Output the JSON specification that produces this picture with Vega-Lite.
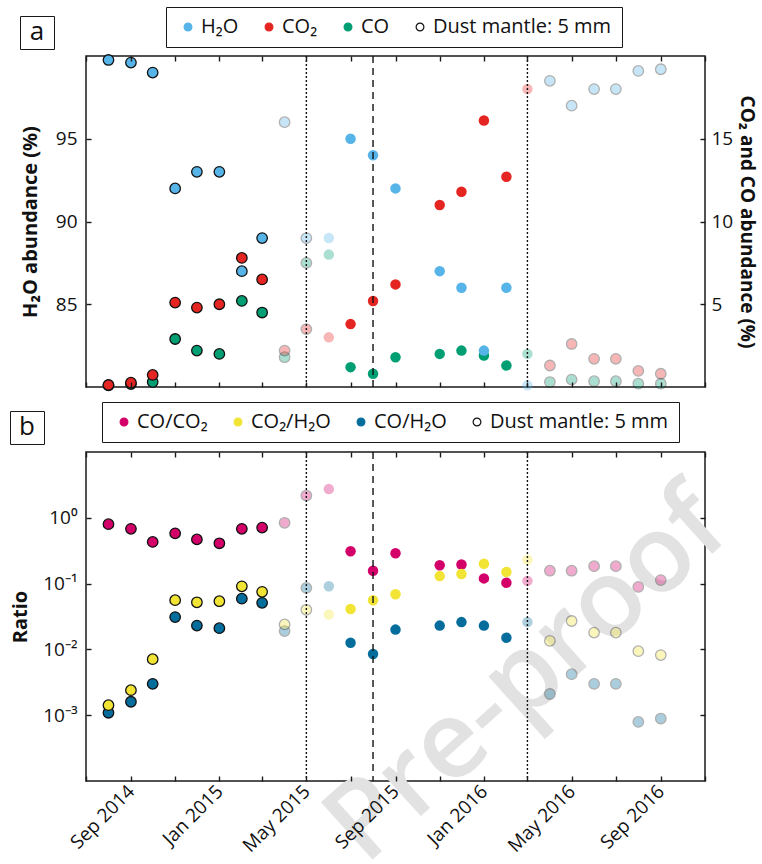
{
  "$schema": "https://vega.github.io/schema/vega-lite/v6.json",
  "background": "white",
  "padding": {"left": 8, "top": 5, "right": 0, "bottom": 0},
  "datasets": {
    "abund": [
      {"date": "2014-08-01", "H2O": 99.76, "CO2": 0.12, "CO": 0.10, "mantle": "yes", "conf": "high"},
      {"date": "2014-09-01", "H2O": 99.6, "CO2": 0.26, "CO": 0.18, "mantle": "yes", "conf": "high"},
      {"date": "2014-10-01", "H2O": 99.0, "CO2": 0.73, "CO": 0.3, "mantle": "yes", "conf": "high"},
      {"date": "2014-11-01", "H2O": 92.0, "CO2": 5.1, "CO": 2.9, "mantle": "yes", "conf": "high"},
      {"date": "2014-12-01", "H2O": 93.0, "CO2": 4.8, "CO": 2.2, "mantle": "yes", "conf": "high"},
      {"date": "2015-01-01", "H2O": 93.0, "CO2": 5.0, "CO": 2.0, "mantle": "yes", "conf": "high"},
      {"date": "2015-02-01", "H2O": 87.0, "CO2": 7.8, "CO": 5.2, "mantle": "yes", "conf": "high"},
      {"date": "2015-03-01", "H2O": 89.0, "CO2": 6.5, "CO": 4.5, "mantle": "yes", "conf": "high"},
      {"date": "2015-04-01", "H2O": 96.0, "CO2": 2.2, "CO": 1.8, "mantle": "yes", "conf": "low"},
      {"date": "2015-05-01", "H2O": 89.0, "CO2": 3.5, "CO": 7.5, "mantle": "yes", "conf": "low"},
      {"date": "2015-06-01", "H2O": 89.0, "CO2": 3.0, "CO": 8.0, "mantle": "no", "conf": "low"},
      {"date": "2015-07-01", "H2O": 95.0, "CO2": 3.8, "CO": 1.2, "mantle": "no", "conf": "high"},
      {"date": "2015-08-01", "H2O": 94.0, "CO2": 5.2, "CO": 0.8, "mantle": "no", "conf": "high"},
      {"date": "2015-09-01", "H2O": 92.0, "CO2": 6.2, "CO": 1.8, "mantle": "no", "conf": "high"},
      {"date": "2015-11-01", "H2O": 87.0, "CO2": 11.0, "CO": 2.0, "mantle": "no", "conf": "high"},
      {"date": "2015-12-01", "H2O": 86.0, "CO2": 11.8, "CO": 2.2, "mantle": "no", "conf": "high"},
      {"date": "2016-01-01", "H2O": 82.2, "CO2": 16.1, "CO": 1.9, "mantle": "no", "conf": "high"},
      {"date": "2016-02-01", "H2O": 86.0, "CO2": 12.7, "CO": 1.3, "mantle": "no", "conf": "high"},
      {"date": "2016-03-01", "H2O": 80.1, "CO2": 18.0, "CO": 2.0, "mantle": "no", "conf": "low"},
      {"date": "2016-04-01", "H2O": 98.5, "CO2": 1.3, "CO": 0.3, "mantle": "yes", "conf": "low"},
      {"date": "2016-05-01", "H2O": 97.0, "CO2": 2.6, "CO": 0.45, "mantle": "yes", "conf": "low"},
      {"date": "2016-06-01", "H2O": 98.0, "CO2": 1.7, "CO": 0.35, "mantle": "yes", "conf": "low"},
      {"date": "2016-07-01", "H2O": 98.0, "CO2": 1.7, "CO": 0.35, "mantle": "yes", "conf": "low"},
      {"date": "2016-08-01", "H2O": 99.1, "CO2": 0.97, "CO": 0.2, "mantle": "yes", "conf": "low"},
      {"date": "2016-09-01", "H2O": 99.2, "CO2": 0.8, "CO": 0.2, "mantle": "yes", "conf": "low"}
    ],
    "ratio": [
      {"date": "2014-08-01", "CO_CO2": 0.80, "CO2_H2O": 0.00142, "CO_H2O": 0.00109, "mantle": "yes", "conf": "high"},
      {"date": "2014-09-01", "CO_CO2": 0.68, "CO2_H2O": 0.0024, "CO_H2O": 0.0016, "mantle": "yes", "conf": "high"},
      {"date": "2014-10-01", "CO_CO2": 0.43, "CO2_H2O": 0.0071, "CO_H2O": 0.0030, "mantle": "yes", "conf": "high"},
      {"date": "2014-11-01", "CO_CO2": 0.58, "CO2_H2O": 0.056, "CO_H2O": 0.031, "mantle": "yes", "conf": "high"},
      {"date": "2014-12-01", "CO_CO2": 0.47, "CO2_H2O": 0.052, "CO_H2O": 0.023, "mantle": "yes", "conf": "high"},
      {"date": "2015-01-01", "CO_CO2": 0.41, "CO2_H2O": 0.054, "CO_H2O": 0.021, "mantle": "yes", "conf": "high"},
      {"date": "2015-02-01", "CO_CO2": 0.68, "CO2_H2O": 0.091, "CO_H2O": 0.059, "mantle": "yes", "conf": "high"},
      {"date": "2015-03-01", "CO_CO2": 0.71, "CO2_H2O": 0.075, "CO_H2O": 0.051, "mantle": "yes", "conf": "high"},
      {"date": "2015-04-01", "CO_CO2": 0.84, "CO2_H2O": 0.024, "CO_H2O": 0.019, "mantle": "yes", "conf": "low"},
      {"date": "2015-05-01", "CO_CO2": 2.18, "CO2_H2O": 0.040, "CO_H2O": 0.086, "mantle": "yes", "conf": "low"},
      {"date": "2015-06-01", "CO_CO2": 2.73, "CO2_H2O": 0.034, "CO_H2O": 0.091, "mantle": "no", "conf": "low"},
      {"date": "2015-07-01", "CO_CO2": 0.31, "CO2_H2O": 0.041, "CO_H2O": 0.0126, "mantle": "no", "conf": "high"},
      {"date": "2015-08-01", "CO_CO2": 0.157, "CO2_H2O": 0.056, "CO_H2O": 0.0085, "mantle": "no", "conf": "high"},
      {"date": "2015-09-01", "CO_CO2": 0.29, "CO2_H2O": 0.069, "CO_H2O": 0.020, "mantle": "no", "conf": "high"},
      {"date": "2015-11-01", "CO_CO2": 0.19, "CO2_H2O": 0.13, "CO_H2O": 0.023, "mantle": "no", "conf": "high"},
      {"date": "2015-12-01", "CO_CO2": 0.195, "CO2_H2O": 0.14, "CO_H2O": 0.026, "mantle": "no", "conf": "high"},
      {"date": "2016-01-01", "CO_CO2": 0.12, "CO2_H2O": 0.20, "CO_H2O": 0.023, "mantle": "no", "conf": "high"},
      {"date": "2016-02-01", "CO_CO2": 0.103, "CO2_H2O": 0.15, "CO_H2O": 0.015, "mantle": "no", "conf": "high"},
      {"date": "2016-03-01", "CO_CO2": 0.11, "CO2_H2O": 0.23, "CO_H2O": 0.026, "mantle": "no", "conf": "low"},
      {"date": "2016-04-01", "CO_CO2": 0.157, "CO2_H2O": 0.0135, "CO_H2O": 0.0021, "mantle": "yes", "conf": "low"},
      {"date": "2016-05-01", "CO_CO2": 0.157, "CO2_H2O": 0.027, "CO_H2O": 0.0042, "mantle": "yes", "conf": "low"},
      {"date": "2016-06-01", "CO_CO2": 0.184, "CO2_H2O": 0.018, "CO_H2O": 0.0030, "mantle": "yes", "conf": "low"},
      {"date": "2016-07-01", "CO_CO2": 0.184, "CO2_H2O": 0.018, "CO_H2O": 0.0030, "mantle": "yes", "conf": "low"},
      {"date": "2016-08-01", "CO_CO2": 0.089, "CO2_H2O": 0.0094, "CO_H2O": 0.00079, "mantle": "yes", "conf": "low"},
      {"date": "2016-09-01", "CO_CO2": 0.113, "CO2_H2O": 0.0082, "CO_H2O": 0.00089, "mantle": "yes", "conf": "low"}
    ],
    "events": [
      {"date": "2015-05-01", "kind": "dotted"},
      {"date": "2015-08-01", "kind": "dashed"},
      {"date": "2016-03-01", "kind": "dotted"}
    ],
    "mark": [{"date": "2016-03-01", "ratio": 0.0038, "label": "Pre-proof"}]
  },
  "spacing": 65,
  "bounds": "flush",
  "resolve": {
    "scale": {"fill": "independent", "stroke": "independent", "shape": "independent", "x": "independent", "y": "independent"},
    "legend": {"fill": "independent", "stroke": "independent", "shape": "independent"}
  },
  "vconcat": [
    {
      "width": 619,
      "height": 331,
      "data": {"name": "abund"},
      "layer": [
        {
          "mark": {"type": "point", "filled": true, "size": 110},
          "encoding": {
            "x": {"field": "date", "type": "temporal", "scale": {"type": "utc", "domain": [{"year": 2014, "month": 7, "date": 1, "utc": true}, {"year": 2016, "month": 11, "date": 1, "utc": true}]}, "axis": null},
            "y": {"field": "CO", "type": "quantitative", "scale": {"domain": [0, 20], "nice": false, "zero": false}, "axis": null},
            "fill": {"datum": "CO", "scale": {"domain": ["H2O", "CO2", "CO", "Dust"], "range": ["#56b4e9", "#e52521", "#009e73", "#ffffff"]},
              "legend": {
                "title": null, "orient": "none", "legendX": 80, "legendY": -49, "direction": "horizontal",
                "labelExpr": "datum.label === 'H2O' ? 'H₂O' : datum.label === 'CO2' ? 'CO₂' : datum.label === 'CO' ? 'CO' : 'Dust mantle: 5 mm'"
              }},
            "stroke": {"condition": {"test": "datum.mantle === 'yes'", "value": "#111"}, "datum": "CO", "scale": {"domain": ["H2O", "CO2", "CO", "Dust"], "range": ["#56b4e9", "#e52521", "#009e73", "#111111"]},
              "legend": {"title": null, "orient": "none", "legendX": 80, "legendY": -49, "direction": "horizontal",
                "labelExpr": "datum.label === 'H2O' ? 'H₂O' : datum.label === 'CO2' ? 'CO₂' : datum.label === 'CO' ? 'CO' : 'Dust mantle: 5 mm'"}},
            "shape": {"datum": "a", "scale": {"domain": ["a"], "range": ["circle"]},
              "legend": {"title": "a", "orient": "none", "legendX": -66, "legendY": -40, "labelExpr": "''", "symbolSize": 1, "symbolOpacity": 0, "symbolStrokeWidth": 0, "symbolOffset": 0, "labelFontSize": 1, "labelOffset": 27, "titleFontSize": 26, "titleFontWeight": "normal", "titlePadding": 0, "titleAnchor": "middle", "titleLimit": 100, "padding": 3}},
            "strokeWidth": {"condition": {"test": "datum.mantle === 'yes'", "value": 1.3}, "value": 0},
            "opacity": {"condition": {"test": "datum.conf === 'low'", "value": 0.33}, "value": 1}
          }
        },
        {
          "mark": {"type": "point", "filled": true, "size": 110},
          "encoding": {
            "x": {"field": "date", "type": "temporal", "scale": {"type": "utc", "domain": [{"year": 2014, "month": 7, "date": 1, "utc": true}, {"year": 2016, "month": 11, "date": 1, "utc": true}]}, "axis": null},
            "y": {"field": "CO2", "type": "quantitative", "scale": {"domain": [0, 20], "nice": false, "zero": false},
              "axis": {"orient": "right", "values": [5, 10, 15], "title": "CO₂ and CO abundance (%)", "titleFontSize": 19, "labelPadding": 11, "titlePadding": 4, "zindex": 1}},
            "fill": {"datum": "CO2", "scale": {"domain": ["H2O", "CO2", "CO", "Dust"], "range": ["#56b4e9", "#e52521", "#009e73", "#ffffff"]}},
            "stroke": {"condition": {"test": "datum.mantle === 'yes'", "value": "#111"}, "datum": "CO2", "scale": {"domain": ["H2O", "CO2", "CO", "Dust"], "range": ["#56b4e9", "#e52521", "#009e73", "#111111"]}},
            "strokeWidth": {"condition": {"test": "datum.mantle === 'yes'", "value": 1.3}, "value": 0},
            "opacity": {"condition": {"test": "datum.conf === 'low'", "value": 0.33}, "value": 1}
          }
        },
        {
          "mark": {"type": "point", "filled": true, "size": 110},
          "encoding": {
            "x": {"field": "date", "type": "temporal", "scale": {"type": "utc", "domain": [{"year": 2014, "month": 7, "date": 1, "utc": true}, {"year": 2016, "month": 11, "date": 1, "utc": true}]},
              "axis": {"orient": "bottom", "labels": false, "title": null, "tickCount": {"interval": "month", "step": 2}, "zindex": 1}},
            "y": {"field": "H2O", "type": "quantitative", "scale": {"domain": [80, 100], "nice": false, "zero": false},
              "axis": {"orient": "left", "values": [85, 90, 95], "title": "H₂O abundance (%)", "labelPadding": 14, "titlePadding": 15, "zindex": 1}},
            "fill": {"datum": "H2O", "scale": {"domain": ["H2O", "CO2", "CO", "Dust"], "range": ["#56b4e9", "#e52521", "#009e73", "#ffffff"]}},
            "stroke": {"condition": {"test": "datum.mantle === 'yes'", "value": "#111"}, "datum": "H2O", "scale": {"domain": ["H2O", "CO2", "CO", "Dust"], "range": ["#56b4e9", "#e52521", "#009e73", "#111111"]}},
            "strokeWidth": {"condition": {"test": "datum.mantle === 'yes'", "value": 1.3}, "value": 0},
            "opacity": {"condition": {"test": "datum.conf === 'low'", "value": 0.33}, "value": 1}
          }
        },
        {
          "data": {"name": "events"},
          "mark": {"type": "rule", "strokeWidth": 1.4, "color": "#111"},
          "encoding": {
            "x": {"field": "date", "type": "temporal", "scale": {"type": "utc", "domain": [{"year": 2014, "month": 7, "date": 1, "utc": true}, {"year": 2016, "month": 11, "date": 1, "utc": true}]},
              "axis": {"orient": "top", "labels": false, "title": null, "tickCount": {"interval": "month", "step": 2}, "zindex": 1}},
            "strokeDash": {"field": "kind", "type": "nominal", "scale": {"domain": ["dotted", "dashed"], "range": [[2, 2], [7, 5]]}, "legend": null}
          }
        }
      ],
      "resolve": {"scale": {"y": "independent"}, "axis": {"x": "independent", "y": "independent"}}
    },
    {
      "width": 619,
      "height": 329,
      "data": {"name": "ratio"},
      "layer": [
        {
          "data": {"name": "mark"},
          "mark": {"type": "text", "angle": -42, "fontSize": 108, "fontWeight": 600, "color": "#e2e2e2", "font": "Open Sans", "align": "center", "baseline": "middle"},
          "encoding": {
            "x": {"field": "date", "type": "temporal", "scale": {"type": "utc", "domain": [{"year": 2014, "month": 7, "date": 1, "utc": true}, {"year": 2016, "month": 11, "date": 1, "utc": true}]}, "axis": null},
            "y": {"field": "ratio", "type": "quantitative", "scale": {"type": "log", "domain": [0.0001, 10], "nice": false},
              "axis": {"orient": "right", "labels": false, "title": null, "values": [0.001, 0.01, 0.1, 1], "zindex": 1}},
            "text": {"field": "label"}
          }
        },
        {
          "mark": {"type": "point", "filled": true, "size": 110},
          "encoding": {
            "x": {"field": "date", "type": "temporal", "scale": {"type": "utc", "domain": [{"year": 2014, "month": 7, "date": 1, "utc": true}, {"year": 2016, "month": 11, "date": 1, "utc": true}]},
              "axis": {"orient": "bottom", "title": null, "tickCount": {"interval": "month", "step": 2}, "zindex": 1,
                "labelExpr": "utcmonth(datum.value) % 4 == 0 ? utcFormat(datum.value, '%b %Y') : ''",
                "labelAngle": -45, "labelAlign": "right", "labelBaseline": "middle", "labelPadding": 12, "labelOverlap": false, "labelFlush": false, "labelFontSize": 19}},
            "y": {"field": "CO_H2O", "type": "quantitative", "scale": {"type": "log", "domain": [0.0001, 10], "nice": false},
              "axis": {"orient": "left", "values": [0.001, 0.01, 0.1, 1], "title": "Ratio", "labelPadding": 14, "titlePadding": 12, "zindex": 1,
                "labelExpr": "datum.value > 0.5 ? '10⁰' : datum.value > 0.05 ? '10⁻¹' : datum.value > 0.005 ? '10⁻²' : '10⁻³'"}},
            "fill": {"datum": "CO_H2O", "scale": {"domain": ["CO_CO2", "CO2_H2O", "CO_H2O", "Dust"], "range": ["#d4006a", "#f2e435", "#056d9c", "#ffffff"]},
              "legend": {
                "title": null, "orient": "none", "legendX": 16, "legendY": -50, "direction": "horizontal",
                "labelExpr": "datum.label === 'CO_CO2' ? 'CO/CO₂' : datum.label === 'CO2_H2O' ? 'CO₂/H₂O' : datum.label === 'CO_H2O' ? 'CO/H₂O' : 'Dust mantle: 5 mm'"
              }},
            "stroke": {"condition": {"test": "datum.mantle === 'yes'", "value": "#111"}, "datum": "CO_H2O", "scale": {"domain": ["CO_CO2", "CO2_H2O", "CO_H2O", "Dust"], "range": ["#d4006a", "#f2e435", "#056d9c", "#111111"]},
              "legend": {"title": null, "orient": "none", "legendX": 16, "legendY": -50, "direction": "horizontal",
                "labelExpr": "datum.label === 'CO_CO2' ? 'CO/CO₂' : datum.label === 'CO2_H2O' ? 'CO₂/H₂O' : datum.label === 'CO_H2O' ? 'CO/H₂O' : 'Dust mantle: 5 mm'"}},
            "shape": {"datum": "b", "scale": {"domain": ["b"], "range": ["circle"]},
              "legend": {"title": "b", "orient": "none", "legendX": -76, "legendY": -41, "labelExpr": "''", "symbolSize": 1, "symbolOpacity": 0, "symbolStrokeWidth": 0, "symbolOffset": 0, "labelFontSize": 1, "labelOffset": 27, "titleFontSize": 26, "titleFontWeight": "normal", "titlePadding": 0, "titleAnchor": "middle", "titleLimit": 100, "padding": 3}},
            "strokeWidth": {"condition": {"test": "datum.mantle === 'yes'", "value": 1.3}, "value": 0},
            "opacity": {"condition": {"test": "datum.conf === 'low'", "value": 0.33}, "value": 1}
          }
        },
        {
          "mark": {"type": "point", "filled": true, "size": 110},
          "encoding": {
            "x": {"field": "date", "type": "temporal", "scale": {"type": "utc", "domain": [{"year": 2014, "month": 7, "date": 1, "utc": true}, {"year": 2016, "month": 11, "date": 1, "utc": true}]}, "axis": null},
            "y": {"field": "CO_CO2", "type": "quantitative", "scale": {"type": "log", "domain": [0.0001, 10], "nice": false}, "axis": null},
            "fill": {"datum": "CO_CO2", "scale": {"domain": ["CO_CO2", "CO2_H2O", "CO_H2O", "Dust"], "range": ["#d4006a", "#f2e435", "#056d9c", "#ffffff"]}},
            "stroke": {"condition": {"test": "datum.mantle === 'yes'", "value": "#111"}, "datum": "CO_CO2", "scale": {"domain": ["CO_CO2", "CO2_H2O", "CO_H2O", "Dust"], "range": ["#d4006a", "#f2e435", "#056d9c", "#111111"]}},
            "strokeWidth": {"condition": {"test": "datum.mantle === 'yes'", "value": 1.3}, "value": 0},
            "opacity": {"condition": {"test": "datum.conf === 'low'", "value": 0.33}, "value": 1}
          }
        },
        {
          "mark": {"type": "point", "filled": true, "size": 110},
          "encoding": {
            "x": {"field": "date", "type": "temporal", "scale": {"type": "utc", "domain": [{"year": 2014, "month": 7, "date": 1, "utc": true}, {"year": 2016, "month": 11, "date": 1, "utc": true}]}, "axis": null},
            "y": {"field": "CO2_H2O", "type": "quantitative", "scale": {"type": "log", "domain": [0.0001, 10], "nice": false}, "axis": null},
            "fill": {"datum": "CO2_H2O", "scale": {"domain": ["CO_CO2", "CO2_H2O", "CO_H2O", "Dust"], "range": ["#d4006a", "#f2e435", "#056d9c", "#ffffff"]}},
            "stroke": {"condition": {"test": "datum.mantle === 'yes'", "value": "#111"}, "datum": "CO2_H2O", "scale": {"domain": ["CO_CO2", "CO2_H2O", "CO_H2O", "Dust"], "range": ["#d4006a", "#f2e435", "#056d9c", "#111111"]}},
            "strokeWidth": {"condition": {"test": "datum.mantle === 'yes'", "value": 1.3}, "value": 0},
            "opacity": {"condition": {"test": "datum.conf === 'low'", "value": 0.33}, "value": 1}
          }
        },
        {
          "data": {"name": "events"},
          "mark": {"type": "rule", "strokeWidth": 1.4, "color": "#111"},
          "encoding": {
            "x": {"field": "date", "type": "temporal", "scale": {"type": "utc", "domain": [{"year": 2014, "month": 7, "date": 1, "utc": true}, {"year": 2016, "month": 11, "date": 1, "utc": true}]},
              "axis": {"orient": "top", "labels": false, "title": null, "tickCount": {"interval": "month", "step": 2}, "zindex": 1}},
            "strokeDash": {"field": "kind", "type": "nominal", "scale": {"domain": ["dotted", "dashed"], "range": [[2, 2], [7, 5]]}, "legend": null}
          }
        }
      ],
      "resolve": {"axis": {"x": "independent", "y": "independent"}}
    }
  ],
  "config": {
    "font": "Open Sans",
    "view": {"stroke": "#1a1a1a", "strokeWidth": 1.5},
    "axis": {
      "domain": false, "grid": false, "ticks": true, "tickColor": "#1a1a1a", "tickWidth": 1.4, "tickSize": -5,
      "labelFont": "Open Sans", "labelFontSize": 19, "labelColor": "#111", "labelPadding": 12,
      "titleFont": "Open Sans", "titleFontSize": 20, "titleFontWeight": "bold", "titleColor": "#111"
    },
    "legend": {
      "labelFont": "Open Sans", "labelFontSize": 20, "labelColor": "#111", "labelOffset": 3, "labelLimit": 400,
      "titleFont": "Open Sans", "titleColor": "#111",
      "strokeColor": "#1a1a1a", "fillColor": "#ffffff", "padding": 10, "columnPadding": 18, "symbolOffset": 2,
      "symbolType": "circle", "symbolSize": 60, "symbolStrokeColor": "#111", "symbolStrokeWidth": 1.2, "symbolOpacity": 1
    }
  }
}
